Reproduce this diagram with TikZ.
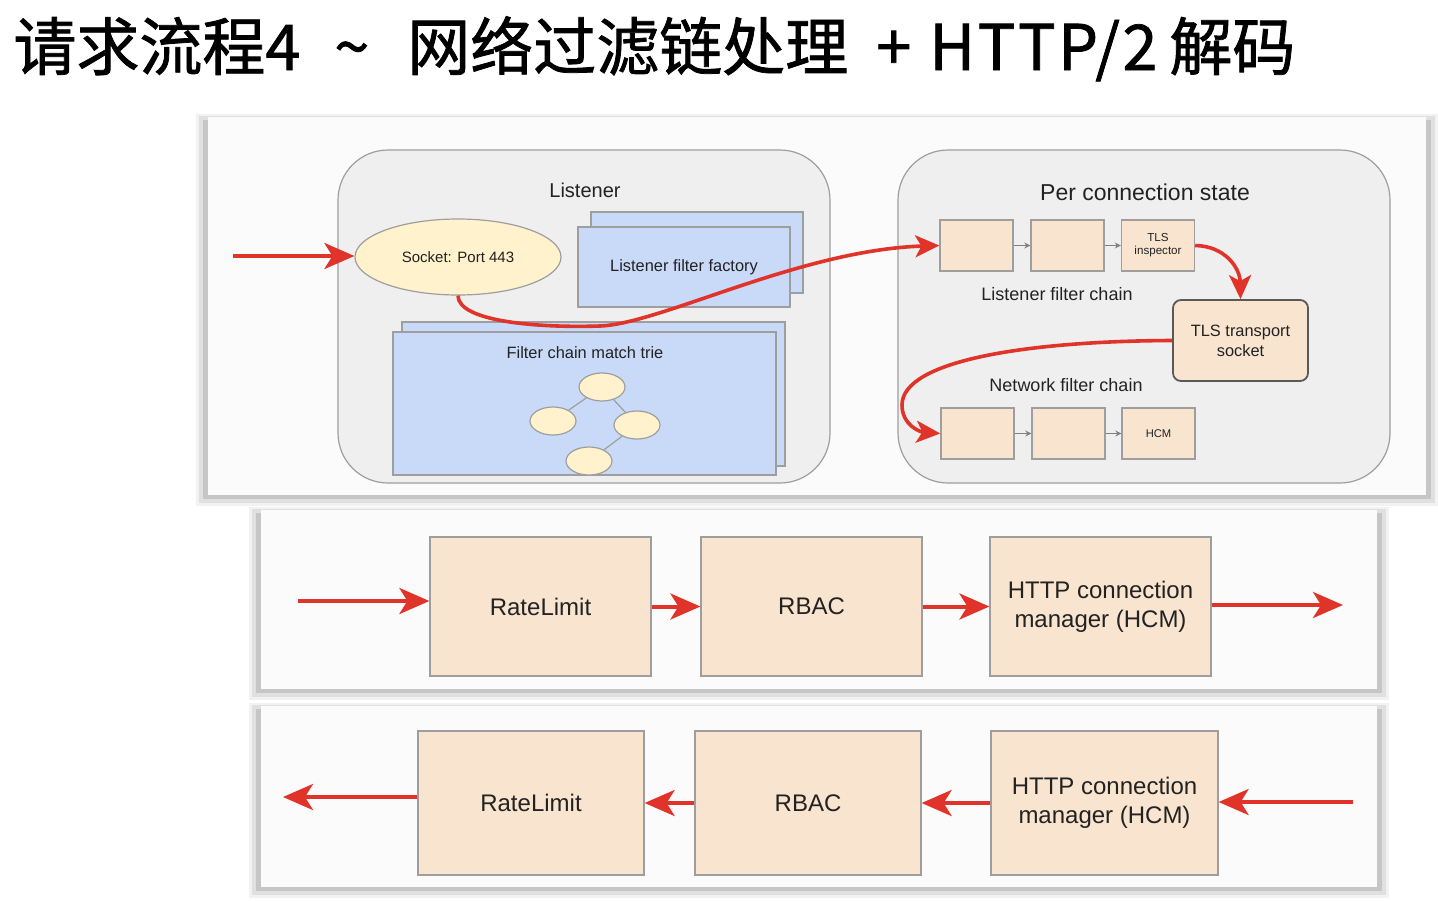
\documentclass[tikz,border=0pt]{standalone}
\usepackage{fontspec}
\setmainfont{Liberation Sans}
\newfontfamily\cjk[FakeBold=1.2]{Noto Sans CJK SC}
\usetikzlibrary{shapes.geometric,arrows.meta}
\definecolor{arrowred}{HTML}{E0332A}
\definecolor{peach}{HTML}{F9E5CF}
\definecolor{lightblue}{HTML}{C9DAF8}
\definecolor{lightyellow}{HTML}{FFF2CC}
\definecolor{roundgray}{HTML}{EFEFEF}
\definecolor{panelfill}{HTML}{FBFBFB}
\definecolor{bordergray}{HTML}{9E9E9E}
\definecolor{textdark}{HTML}{222222}
\definecolor{shadowA}{HTML}{F2F2F2}
\definecolor{shadowB}{HTML}{E0E0E0}
\definecolor{shadowC}{HTML}{C6C6C6}
\newcommand{\shadowpanel}[4]{%
  \fill[shadowA] (#1-12,#2-3) rectangle (#3+12,#4+11);
  \fill[shadowB] (#1-9,#2-1) rectangle (#3+9,#4+8);
  \fill[shadowC] (#1-5,#2+3) rectangle (#3+5,#4+4);
  \fill[panelfill] (#1,#2) rectangle (#3,#4);}
\begin{document}
\begin{tikzpicture}[x=0.5pt,y=-0.5pt,
  redarrow/.style={draw=arrowred, line width=2pt, -{Stealth[length=15pt,width=13pt,inset=4pt]}},
  redcurve/.style={draw=arrowred, line width=1.8pt, -{Stealth[length=12pt,width=11pt,inset=3pt]}},
  grayarrow/.style={draw=gray, line width=0.6pt, -{Stealth[length=3pt,width=3pt]}},
  roundbox/.style={draw=bordergray, fill=roundgray, line width=0.6pt, rounded corners=25pt, minimum width=246pt, minimum height=166.5pt},
  bluebox/.style={draw=bordergray, fill=lightblue, line width=0.7pt, inner sep=0pt},
  oval/.style={ellipse, draw=bordergray, fill=lightyellow, line width=0.6pt, inner sep=0pt},
  chainbox/.style={draw=bordergray, fill=peach, line width=0.7pt, minimum width=36.5pt, minimum height=25.5pt, inner sep=0pt, align=center, text=textdark},
  bigbox/.style={draw=bordergray, fill=peach, line width=0.6pt, minimum height=69.5pt, inner sep=0pt, align=center, text=textdark, font=\fontsize{12}{14.5}\selectfont},
  lbl/.style={text=textdark, inner sep=0pt}
]
\useasboundingbox (0,0) rectangle (1438,900);
\fill[white] (0,0) rectangle (1438,900);

% title
\node[anchor=base west, inner sep=0pt, font=\cjk\fontsize{31.5}{36}\selectfont] (title) at (13,70)
  {请求流程4\hspace{17pt}\textasciitilde\hspace{19pt}网络过滤链处理\hspace{14pt}+\hspace{9pt}{\addfontfeature{LetterSpace=4}HTTP/2}\hspace{6pt}解码};

% panels with shadows
\shadowpanel{208}{117}{1426}{495}
\shadowpanel{261}{510}{1377}{689}
\shadowpanel{261}{706}{1377}{887}

% ---------- top panel ----------
\node[roundbox] (lis) at (584,316.5) {};
\node[roundbox] (pcs) at (1144,316.5) {};
\node[lbl, font=\fontsize{10}{12}\selectfont] (lislbl) at (585,190) {Listener};
\node[lbl, font=\fontsize{11.5}{13}\selectfont] (pcslbl) at (1145,192) {Per connection state};

\node[oval, minimum width=103pt, minimum height=38pt, font=\fontsize{7.5}{9}\selectfont, text=textdark] (sock) at (458,257) {Socket: Port 443};

\node[bluebox, minimum width=106pt, minimum height=40.5pt] (facback) at (697,252.5) {};
\node[bluebox, minimum width=106pt, minimum height=40pt, font=\fontsize{8.2}{10}\selectfont, text=textdark] (fac) at (684,267) {Listener filter factory};

\node[bluebox, minimum width=191.5pt, minimum height=72pt] (trieback) at (593.5,394) {};
\node[bluebox, minimum width=191.5pt, minimum height=71.5pt] (trie) at (584.5,403.5) {};
\node[lbl, font=\fontsize{8.2}{10}\selectfont] (trielbl) at (585,353) {Filter chain match trie};

\node[oval, minimum width=23pt, minimum height=14pt] (t1) at (602,387) {};
\node[oval, minimum width=23pt, minimum height=14pt] (t2) at (553,421) {};
\node[oval, minimum width=23pt, minimum height=14pt] (t3) at (637,425) {};
\node[oval, minimum width=23pt, minimum height=14pt] (t4) at (589,461) {};
\draw[bordergray, line width=0.6pt] (t1) -- (t2);
\draw[bordergray, line width=0.6pt] (t1) -- (t3);
\draw[bordergray, line width=0.6pt] (t3) -- (t4);

% listener filter chain
\node[chainbox] (lf1) at (976.5,245.5) {};
\node[chainbox] (lf2) at (1067.5,245.5) {};
\node[chainbox, font=\fontsize{5.8}{6.6}\selectfont] (lf3) at (1158,245.5) {TLS\\inspector};
\draw[grayarrow] (lf1) -- (lf2);
\draw[grayarrow] (lf2) -- (lf3);
\node[lbl, font=\fontsize{9}{11}\selectfont] (lfclbl) at (1057,294) {Listener filter chain};

\node[chainbox, draw=black!65, line width=0.9pt, rounded corners=4pt, minimum width=67.5pt, minimum height=40.5pt, font=\fontsize{8.2}{10}\selectfont] (tlst) at (1240.5,340.5) {TLS transport\\socket};

\node[lbl, font=\fontsize{9}{11}\selectfont] (nfclbl) at (1066,385) {Network filter chain};
\node[chainbox] (nf1) at (977.5,433.5) {};
\node[chainbox] (nf2) at (1068.5,433.5) {};
\node[chainbox, font=\fontsize{5.6}{6.6}\selectfont] (nf3) at (1158.5,433.5) {HCM};
\draw[grayarrow] (nf1) -- (nf2);
\draw[grayarrow] (nf2) -- (nf3);

% red arrows top
\coordinate (in0) at (233,256);
\draw[redarrow] (in0) -- (sock.west |- in0);
\coordinate (low) at (600,326);
\draw[redcurve] (sock.south) .. controls (458,322) and (540,328) .. (low)
  .. controls (660,324) and (800,250) .. (lf1.west);
\draw[redcurve] (lf3.east) .. controls (1225,246) and (1240,268) .. (tlst.north);
\coordinate (bend) at (902,405);
\draw[redcurve] (tlst.west) .. controls (1030,341) and (902,360) .. (bend)
  .. controls (902,425) and (920,432) .. (nf1.west);

% ---------- middle panel ----------
\node[bigbox, minimum width=110.5pt] (m1) at (540.5,606.5) {RateLimit};
\node[bigbox, minimum width=110.5pt] (m2) at (811.5,606.5) {RBAC};
\node[bigbox, minimum width=110.5pt] (m3) at (1100.5,606.5) {HTTP connection\\manager (HCM)};
\coordinate (min) at (298,601);
\coordinate (mout) at (1343,605);
\draw[redarrow] (min) -- (m1.west |- min);
\draw[redarrow] (m1) -- (m2);
\draw[redarrow] (m2) -- (m3);
\draw[redarrow] (m3.east |- mout) -- (mout);

% ---------- bottom panel ----------
\node[bigbox, minimum width=113pt, minimum height=72pt] (b1) at (531,803) {RateLimit};
\node[bigbox, minimum width=113pt, minimum height=72pt] (b2) at (808,803) {RBAC};
\node[bigbox, minimum width=113.5pt, minimum height=72pt] (b3) at (1104.5,803) {HTTP connection\\manager (HCM)};
\coordinate (bin) at (1353,802);
\coordinate (bout) at (283,797);
\draw[redarrow] (bin) -- (b3.east |- bin);
\draw[redarrow] (b3) -- (b2);
\draw[redarrow] (b2) -- (b1);
\draw[redarrow] (b1.west |- bout) -- (bout);
\end{tikzpicture}
\end{document}
